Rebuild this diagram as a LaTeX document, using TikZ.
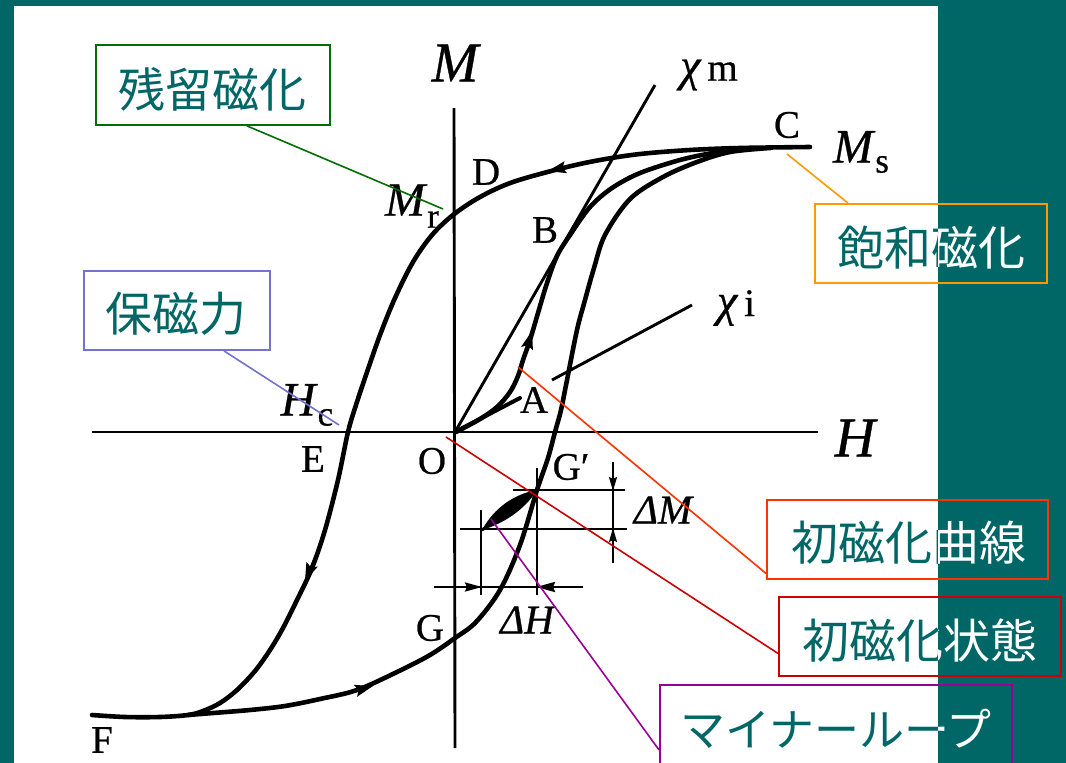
\documentclass[tikz,border=0pt]{standalone}
\usepackage{fontspec}
\setmainfont[FakeBold=0.6]{Liberation Serif}
\newfontfamily\jpfont{Noto Sans CJK JP}
\usetikzlibrary{arrows.meta}
\definecolor{tealbg}{RGB}{0,102,102}
\definecolor{cgreen}{RGB}{0,110,0}
\definecolor{cblue}{RGB}{115,115,205}
\definecolor{corange}{RGB}{255,153,0}
\definecolor{cred}{RGB}{255,51,0}
\definecolor{cdred}{RGB}{204,0,0}
\definecolor{cpurple}{RGB}{153,0,153}
\tikzset{
  curve/.style={line width=4.6pt, line join=round, line cap=round},
  axis/.style={line width=2.9pt},
  thinl/.style={line width=1.8pt},
  arrowhd/.style={line width=2pt, -{Stealth[length=18pt,width=12pt,inset=3pt]}},
  smallarr/.style={line width=1.8pt, -{Stealth[length=14pt,width=8pt,inset=2pt]}},
  lbl/.style={inner sep=0pt, font=\fontsize{39}{41}\selectfont},
  biglbl/.style={inner sep=0pt, font=\fontsize{56}{58}\selectfont\itshape},
  sublbl/.style={inner sep=0pt, font=\fontsize{48}{50}\selectfont},
  jpbox/.style={draw=#1, line width=1.8pt, inner sep=0pt},
  lead/.style={draw=#1, line width=1.6pt},
  jptext/.style={inner sep=0pt, font=\jpfont\fontsize{47}{50}\selectfont},
}
\newcommand\jplabels[2]{%
  \node[jptext, text=#1] (t1#2) at (212,89) {残留磁化};
  \node[jptext, text=#1] (t2#2) at (176,314) {保磁力};
  \node[jptext, text=#1] (t3#2) at (931,248) {飽和磁化};
  \node[jptext, text=#1] (t4#2) at (909,543) {初磁化曲線};
  \node[jptext, text=#1] (t5#2) at (920,641) {初磁化状態};
  \node[jptext, text=#1, font=\jpfont\fontsize{45}{48}\selectfont] (t6#2) at (836,729) {マイナーループ};
}
\begin{document}
\begin{tikzpicture}[x=1pt,y=-1pt]
\useasboundingbox (0,0) rectangle (1066,763);
\fill[tealbg] (0,0) rectangle (1066,763);
\fill[white] (14,6) rectangle (938,763);

% axes
\coordinate (O) at (455,432);
\coordinate (Mtop) at (454,108);
\coordinate (Mbot) at (455,748);
\coordinate (Hleft) at (92,432);
\coordinate (Hright) at (818,432);
\draw[axis] (Mtop) -- (Mbot);
\draw[axis] (Hleft) -- (Hright);

% chi lines
\coordinate (chimEnd) at (655,85);
\draw[axis] (O) -- (chimEnd);
\coordinate (chiiA) at (520,398);
\coordinate (chiiB) at (552,380);
\coordinate (chiiEnd) at (692,305);
\draw[line width=4pt, line cap=round] (O) -- (chiiA);
\draw[axis] (chiiB) -- (chiiEnd);

% descending branch C -> F
\draw[curve] plot[smooth, tension=0.55] coordinates {
  (810,147) (740,148) (690,150) (640,154) (600,160) (563,168) (513,182) (480,197)
  (453,215) (432,235) (413,262) (395,298) (380,335) (366,375) (356,405)
  (348,432) (338,480) (325,530) (312,568) (297,600) (283,628) (270,650)
  (255,671) (237,690) (220,703) (203,711) (188,715) (160,717) (125,717) (92,715)};

% ascending branch F -> C
\draw[curve] plot[smooth, tension=0.55] coordinates {
  (188,715) (213,713) (250,710) (285,706) (320,699) (357,690) (397,672)
  (430,655) (455,638) (476,622) (500,590) (520,545) (537,490) (548,458)
  (555,432) (561,410) (567,380) (577,330) (585,300) (594,268) (605,235)
  (630,199) (663,177) (697,162) (730,152) (770,148)};

% initial magnetisation curve O -> C
\draw[curve] plot[smooth, tension=0.55] coordinates {
  (456,432) (480,419) (497,407) (510,392) (518,376) (523,360) (530,340)
  (538,313) (547,283) (557,256) (570,235) (590,207) (612,188) (640,173)
  (680,160) (713,153) (750,148)};

% arrowheads on curves
\draw[arrowhd] (526,352) -- (532,331);
\draw[arrowhd] (576,165) -- (548,171);
\draw[arrowhd] (316,555) -- (305,581);
\draw[arrowhd] (344,694) -- (373,686);

% minor loop
\coordinate (Gp) at (537,490);
\coordinate (Lm) at (482,530);
\fill (Lm) .. controls (494,508) and (514,494) .. (Gp)
      .. controls (524,511) and (502,524) .. (Lm) -- cycle;
\draw[line width=3pt, line cap=round] (Lm) -- (Gp);
\draw[thinl] (513,490) -- (625,490);
\draw[thinl] (460,529) -- (627,529);
\draw[thinl] (481,510) -- (481,595);
\draw[thinl] (537,468) -- (537,595);
\draw[thinl] (613,462) -- (613,563);
\draw[smallarr] (613,466) -- (613,491);
\draw[smallarr] (613,558) -- (613,528);
\draw[line width=2.8pt] (434,587) -- (583,587);
\draw[line width=2.4pt, -{Stealth[length=17pt,width=9pt,inset=2pt]}] (452,587) -- (482,587);
\draw[line width=2.4pt, -{Stealth[length=19pt,width=10pt,inset=2pt]}] (575,587) -- (536,587);

% letter labels
\node[biglbl] (Mlab) at (455,63) {M};
\node[biglbl] (Hlab) at (855,438) {H};
\node[lbl] (chim) at (709,75) {\textit{\fontsize{46}{46}\selectfont χ}\hspace{6pt}m};
\node[lbl] (chii) at (736,308) {\textit{\fontsize{46}{46}\selectfont χ}\hspace{6pt}i};
\node[lbl] (Clab) at (787,125) {C};
\node[sublbl] (Ms) at (861,152) {\textit{M}\raisebox{-10pt}{\fontsize{35}{35}\selectfont s}};
\node[lbl] (Dlab) at (486,172) {D};
\node[sublbl] (Mr) at (412,206) {\textit{M}\raisebox{-12pt}{\fontsize{35}{35}\selectfont r}};
\node[lbl] (Blab) at (545,230) {B};
\node[lbl] (Alab) at (534,400) {A};
\node[sublbl] (Hc) at (307,405) {\textit{H}\raisebox{-10pt}{\fontsize{35}{35}\selectfont c}};
\node[lbl] (Elab) at (313,459) {E};
\node[lbl] (Olab) at (432,461) {O};
\node[lbl] (Gplab) at (571,467) {G′};
\node[lbl, font=\fontsize{41}{43}\selectfont\itshape] (dM) at (663,510) {ΔM};
\node[lbl, font=\fontsize{41}{43}\selectfont\itshape] (dH) at (527,620) {ΔH};
\node[lbl] (Glab) at (430,628) {G};
\node[lbl] (Flab) at (102,740) {F};

% label boxes
\node[jpbox=cgreen, minimum width=234pt, minimum height=80pt] (b1) at (213,85) {};
\node[jpbox=cblue, minimum width=186pt, minimum height=79pt] (b2) at (177,310.5) {};
\node[jpbox=corange, minimum width=232pt, minimum height=79pt] (b3) at (931,243.5) {};
\node[jpbox=cred, minimum width=281pt, minimum height=79pt] (b4) at (907.5,539.5) {};
\node[jpbox=cdred, minimum width=282pt, minimum height=79pt] (b5) at (920,636.5) {};
\node[jpbox=cpurple, minimum width=352pt, minimum height=90pt] (b6) at (836,730) {};

% leader lines
\coordinate (e1) at (443,209);
\coordinate (e2) at (339,425);
\coordinate (e3) at (787,154);
\coordinate (e4) at (518,367);
\coordinate (e5) at (446,437);
\coordinate (e6) at (491,519);
\draw[lead=cgreen] ([xshift=34pt]b1.south) -- (e1);
\draw[lead=cblue] ([xshift=47pt]b2.south) -- (e2);
\draw[lead=corange] ([xshift=-83pt]b3.north) -- (e3);
\draw[lead=cred] ([yshift=-34pt]b4.west) -- (e4);
\draw[lead=cdred] ([yshift=-17pt]b5.west) -- (e5);
\draw[lead=cpurple] ([yshift=-20pt]b6.west) -- (e6);

% Japanese texts: teal on white, white on teal
\begin{scope}
  \clip (14,6) rectangle (938,763);
  \jplabels{tealbg}{a}
\end{scope}
\begin{scope}
  \clip (938,0) rectangle (1066,763);
  \jplabels{white}{b}
\end{scope}
\end{tikzpicture}
\end{document}
